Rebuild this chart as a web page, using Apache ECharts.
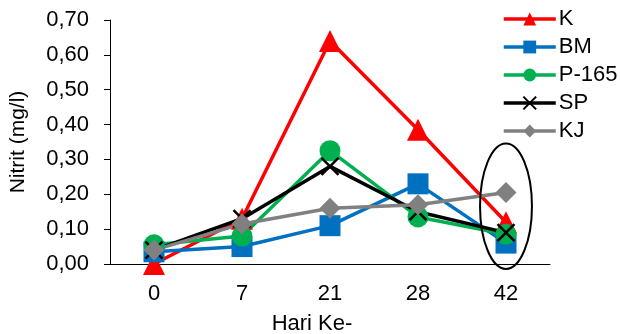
<!DOCTYPE html>
<html>
<head>
<meta charset="utf-8">
<script src="https://cdn.jsdelivr.net/npm/echarts@6/dist/echarts.min.js"></script>
<style>
  html, body { margin: 0; padding: 0; background: #fff; }
  #chart { width: 620px; height: 334px; }
</style>
</head>
<body>
<div id="chart"></div>
<script>
// Sampling days
const days = ['0', '7', '21', '28', '42'];
// Nitrite concentration (mg/l) per treatment
const seriesK = [0.00, 0.13, 0.64, 0.385, 0.12];
const seriesBM = [0.035, 0.05, 0.11, 0.23, 0.06];
const seriesP165 = [0.055, 0.08, 0.325, 0.135, 0.085];
const seriesSP = [0.04, 0.13, 0.28, 0.15, 0.09];
const seriesKJ = [0.04, 0.115, 0.16, 0.17, 0.205];
// Y axis range
const yMin = 0, yMax = 0.7, yStep = 0.1;

const FONT = 'Liberation Sans, Arial, sans-serif';
const chart = echarts.init(document.getElementById('chart'), null, { renderer: 'canvas' });

function lineSeries(name, data, color, symbol, size, extra) {
  return Object.assign({
    name: name,
    type: 'line',
    data: data,
    symbol: symbol,
    symbolSize: size,
    showAllSymbol: true,
    lineStyle: { color: color, width: 3.5 },
    itemStyle: { color: color },
    emphasis: { disabled: true },
    animation: false
  }, extra || {});
}

const crossPath = 'path://M0,0L10,10M10,0L0,10';

chart.setOption({
  backgroundColor: '#fff',
  animation: false,
  grid: { left: 110, right: 70, top: 20, bottom: 70, outerBoundsMode: 'none', containLabel: false },
  legend: {
    orient: 'vertical',
    left: 497,
    top: 3,
    itemWidth: 52,
    itemHeight: 16,
    itemGap: 6,
    lineStyle: { width: 3.5 },
    textStyle: { fontFamily: FONT, fontSize: 22, color: '#000', padding: [0, 0, 0, -2] },
    data: ['K', 'BM', 'P-165', 'SP', 'KJ']
  },
  xAxis: {
    type: 'category',
    data: days,
    boundaryGap: true,
    axisLine: { lineStyle: { color: '#000', width: 1 } },
    axisTick: { show: false },
    axisLabel: { fontFamily: FONT, fontSize: 22, color: '#000', margin: 19 },
    name: 'Hari Ke-',
    nameLocation: 'middle',
    nameGap: 49,
    nameTextStyle: { fontFamily: FONT, fontSize: 22, color: '#000', padding: [0, 36, 0, 0] }
  },
  yAxis: {
    type: 'value',
    min: yMin,
    max: yMax,
    interval: yStep,
    splitLine: { show: false },
    axisLine: { show: true, lineStyle: { color: '#000', width: 1 } },
    axisTick: { show: true, length: 6, lineStyle: { color: '#000' } },
    axisLabel: {
      fontFamily: FONT, fontSize: 22, color: '#000', margin: 21,
      formatter: v => v.toFixed(2).replace('.', ',')
    },
    name: 'Nitrit (mg/l)',
    nameLocation: 'middle',
    nameGap: 81,
    nameTextStyle: { fontFamily: FONT, fontSize: 21, color: '#000' }
  },
  series: [
    lineSeries('K', seriesK, '#ff0000', 'triangle', 22),
    lineSeries('BM', seriesBM, '#0070c0', 'rect', 21),
    lineSeries('P-165', seriesP165, '#00b050', 'circle', 21),
    lineSeries('SP', seriesSP, '#000000', crossPath, 17, {
      itemStyle: { color: 'transparent', borderColor: '#000', borderWidth: 2.5 }
    }),
    lineSeries('KJ', seriesKJ, '#808080', 'diamond', 21)
  ]
});

// Highlight ellipse around the last sampling day
const ellCenter = chart.convertToPixel({ gridIndex: 0 }, ['42', 0.166]);
const ellTop = chart.convertToPixel({ gridIndex: 0 }, ['42', 0.346]);
const ellPrev = chart.convertToPixel({ gridIndex: 0 }, ['28', 0.166]);
const ellRy = ellCenter[1] - ellTop[1];
const ellRx = (ellCenter[0] - ellPrev[0]) * 0.295;
chart.setOption({
  graphic: [{
    type: 'ellipse',
    shape: { cx: ellCenter[0], cy: ellCenter[1], rx: ellRx, ry: ellRy },
    style: { fill: null, stroke: '#000', lineWidth: 2 },
    silent: true,
    z: 100
  }]
});
</script>
</body>
</html>
